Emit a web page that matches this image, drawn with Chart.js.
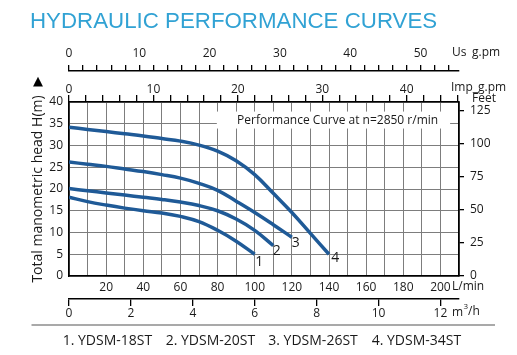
<!DOCTYPE html>
<html><head><meta charset="utf-8">
<script src="https://cdn.jsdelivr.net/npm/chart.js@4"></script>
<style>html,body{margin:0;padding:0;background:#fff;}canvas{display:block;}</style>
</head><body>
<canvas id="c" width="517" height="355"></canvas>
<script>
// ---- data ----
const flowLmin = [0,10,20,30,40,50,60,70,80,90,100,110,120,130,140];
const head18ST = [18.1,17.1,16.3,15.6,15.0,14.5,13.7,12.5,10.5,8.0,5.0];
const head20ST = [20.1,19.6,19.1,18.6,18.1,17.6,17.0,16.2,15.0,13.1,10.5,7.0];
const head26ST = [26.2,25.7,25.2,24.6,24.0,23.3,22.5,21.3,19.7,17.2,14.6,11.8,8.9];
const head34ST = [34.2,33.7,33.2,32.7,32.2,31.6,31.0,30.1,28.7,26.5,23.3,19.0,14.6,9.8,5.0];
const seriesNames = ['1. YDSM-18ST','2. YDSM-20ST','3. YDSM-26ST','4. YDSM-34ST'];
const curveTags = ['1','2','3','4'];
const lminLabels = [20,40,60,80,100,120,140,160,180,200];
const m3hLabels = [0,2,4,6,8,10,12];
const usLabels = [0,10,20,30,40,50];
const impLabels = [0,10,20,30,40];
const headLabels = [0,5,10,15,20,25,30,35,40];
const feetLabels = [0,25,50,75,100,125];
const FLOW_MAX = 210, HEAD_MAX = 40;
const LPM_PER_USGPM = 3.78541, LPM_PER_IMPGPM = 4.54609, LPM_PER_M3H = 1000/60, M_PER_FT = 0.3048;

const FONT = "'Open Sans', sans-serif";
Chart.defaults.font.family = FONT;
Chart.defaults.font.size = 12;
Chart.defaults.color = '#1a1a1a';

const GRID = '#7d7d7d', BLACK = '#000', LINE = '#1f5a97';
const has = (arr, v) => arr.some(a => Math.abs(a - v) < 1e-6);

const extras = {
  id: 'extras',
  beforeDatasetsDraw(chart) {
    const {ctx, scales: {x, y}} = chart;
    const l = x.getPixelForValue(79.6), r = x.getPixelForValue(205.2);
    const t = y.getPixelForValue(37.8), b = y.getPixelForValue(33.9);
    ctx.save(); ctx.fillStyle = '#fff'; ctx.fillRect(l, t, r - l, b - t); ctx.restore();
  },
  afterDraw(chart) {
    const {ctx, scales: {x, y, y2, xM3, xImp, xUs}} = chart;
    ctx.save();
    // title
    ctx.fillStyle = '#31a2d4';
    ctx.font = "22.3px 'Liberation Sans', Arial, sans-serif";
    ctx.textBaseline = 'alphabetic'; ctx.textAlign = 'left';
    ctx.fillText('HYDRAULIC PERFORMANCE CURVES', 30, 28.3);
    // unit labels
    ctx.fillStyle = '#1a1a1a';
    ctx.font = '12px ' + FONT;
    ctx.textBaseline = 'middle';
    ctx.fillText('Us', xUs.right - 7, 52.5);
    ctx.fillText('g.pm', xUs.right + 13, 52.5);
    ctx.fillText('Imp_g.pm', xImp.right - 8, 87.5);
    ctx.fillText('Feet', y2.left + 13, 99);
    ctx.fillText('L/min', x.right - 7, 287);
    ctx.fillText('m', xM3.right - 7, 313);
    const mw = ctx.measureText('m').width;
    ctx.font = '8px ' + FONT;
    ctx.fillText('3', xM3.right - 7 + mw + 0.5, 307);
    ctx.font = '12px ' + FONT;
    ctx.fillText('/h', xM3.right - 7 + mw + 5, 312);
    // arrow
    ctx.font = "13px 'DejaVu Sans', sans-serif";
    ctx.textAlign = 'center';
    ctx.fillStyle = '#000';
    ctx.fillText('\u25B2', 38, 82);
    // annotation
    ctx.fillStyle = '#1a1a1a';
    ctx.font = '12px ' + FONT;
    ctx.textAlign = 'left';
    ctx.fillText('Performance Curve at n=2850 r/min', x.getPixelForValue(90.5), y.getPixelForValue(35.7));
    // curve tags
    const series = [head18ST, head20ST, head26ST, head34ST];
    const offs = [[4.6, 7.5], [3.4, 5], [4, 5.6], [6.3, 4]];
    ctx.font = '14px ' + FONT;
    ctx.textAlign = 'center';
    series.forEach((h, i) => {
      const n = h.length - 1;
      const px = x.getPixelForValue(flowLmin[n]), py = y.getPixelForValue(h[n]);
      ctx.fillText(curveTags[i], px + offs[i][0], py + offs[i][1]);
    });
    // separator
    ctx.strokeStyle = '#555'; ctx.lineWidth = 1.2;
    ctx.beginPath(); ctx.moveTo(31.5, 325); ctx.lineTo(495, 325); ctx.stroke();
    // model legend
    ctx.fillStyle = '#1a1a1a';
    ctx.font = '14px ' + FONT;
    ctx.textAlign = 'left';
    const lx = [62.7, 165.7, 268.3, 371.7];
    seriesNames.forEach((s, i) => ctx.fillText(s, lx[i], 341));
    ctx.restore();
  }
};

new Chart(document.getElementById('c'), {
  type: 'line',
  data: {
    datasets: [head18ST, head20ST, head26ST, head34ST].map((h, i) => ({
      label: seriesNames[i],
      data: h.map((v, j) => ({x: flowLmin[j], y: v})),
      xAxisID: 'x', yAxisID: 'y',
      borderColor: LINE, borderWidth: 3.5, pointRadius: 0,
      tension: 0.4, fill: false, borderCapStyle: 'butt', borderJoinStyle: 'round'
    }))
  },
  options: {
    responsive: false, animation: false, devicePixelRatio: 1,
    layout: {padding: {top: 40, bottom: 32, left: 0, right: 0}},
    plugins: {legend: {display: false}, tooltip: {enabled: false}},
    scales: {
      x: {
        type: 'linear', position: 'bottom', min: 0, max: FLOW_MAX, weight: 1,
        grid: {color: GRID, lineWidth: 1, drawTicks: false},
        border: {display: true, color: BLACK, width: 1.6},
        ticks: {stepSize: 10, autoSkip: false, maxRotation: 0, padding: 4, includeBounds: false,
          callback: v => has(lminLabels, v) ? String(v) : ''},
        afterFit: s => { s.height = 23; }
      },
      xM3: {
        type: 'linear', position: 'bottom', min: 0, max: FLOW_MAX / LPM_PER_M3H, weight: 2,
        grid: {drawOnChartArea: false, tickLength: 7, color: BLACK, lineWidth: 1.3},
        border: {display: true, color: BLACK, width: 1.6},
        ticks: {stepSize: 2, autoSkip: false, maxRotation: 0, padding: 0, includeBounds: false,
          callback: v => has(m3hLabels, v) ? String(v) : ''},
        afterFit: s => { s.height = 24; }
      },
      xImp: {
        type: 'linear', position: 'top', min: 0, max: FLOW_MAX / LPM_PER_IMPGPM, weight: 1,
        grid: {drawOnChartArea: false, tickLength: 7, color: BLACK, lineWidth: 1.3},
        border: {display: true, color: BLACK, width: 1.6},
        ticks: {stepSize: 2, autoSkip: false, maxRotation: 0, padding: -2, includeBounds: false,
          callback: v => has(impLabels, v) ? String(v) : ''},
        afterFit: s => { s.height = 31; }
      },
      xUs: {
        type: 'linear', position: 'top', min: 0, max: FLOW_MAX / LPM_PER_USGPM, weight: 2,
        grid: {drawOnChartArea: false, tickLength: 6, color: BLACK, lineWidth: 1.3},
        border: {display: true, color: BLACK, width: 1.6},
        ticks: {stepSize: 2, autoSkip: false, maxRotation: 0, padding: 4.5, includeBounds: false,
          callback: v => has(usLabels, v) ? String(v) : ''},
        afterFit: s => { s.height = 31; }
      },
      y: {
        type: 'linear', position: 'left', min: 0, max: HEAD_MAX,
        grid: {color: GRID, lineWidth: 1, drawTicks: false},
        border: {display: true, color: BLACK, width: 1.6},
        ticks: {stepSize: 5, padding: 6, callback: v => has(headLabels, v) ? String(v) : ''},
        title: {display: true, text: 'Total manometric head H(m)', color: '#1a1a1a',
          font: {size: 14}, padding: {top: 30, bottom: 0}},
        afterFit: s => { s.width = 69; }
      },
      y2: {
        type: 'linear', position: 'right', min: 0, max: HEAD_MAX / M_PER_FT,
        grid: {drawOnChartArea: false, tickLength: 5, color: BLACK, lineWidth: 1.3},
        border: {display: true, color: BLACK, width: 1.6},
        ticks: {padding: 6},
        afterBuildTicks: s => { s.ticks = feetLabels.map(v => ({value: v})); },
        afterFit: s => { s.width = 58; }
      }
    }
  },
  plugins: [extras]
});
</script>
</body></html>
